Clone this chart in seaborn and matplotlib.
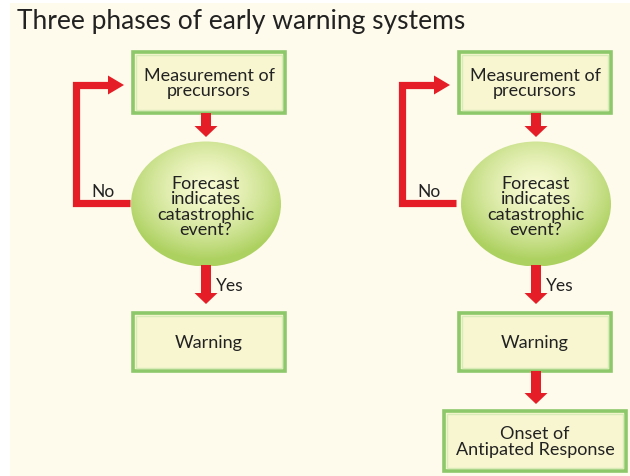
import numpy as np
import matplotlib.pyplot as plt
import seaborn as sns
from matplotlib.patches import Rectangle, Ellipse, Polygon

sns.set_theme(style="white")
plt.rcParams['font.family'] = ['Lato', 'DejaVu Sans']

# chart text
title = "Three phases of early warning systems"
measure_label = "Measurement of\nprecursors"
decision_label = "Forecast\nindicates\ncatastrophic\nevent?"
warning_label = "Warning"
onset_label = "Onset of\nAntipated Response"
no_label = "No"
yes_label = "Yes"

RED = "#e41d26"
GREEN = "#8dc86a"
FILL = "#f8f6d0"
INK = "#222222"
BG = "#fefbec"

fig = plt.figure(figsize=(6.3, 4.77), dpi=100)
fig.patch.set_facecolor("white")
ax = fig.add_axes([0, 0, 1, 1])
ax.set_xlim(0, 630)
ax.set_ylim(477, 0)
ax.axis("off")

ax.add_patch(Rectangle((10, 4), 620, 473, facecolor=BG, edgecolor="none", zorder=0))

ax.text(17, 22, title, fontsize=19, color=INK, va="center", ha="left")


def box(x0, y0, x1, y1, label, fs=13):
    ax.add_patch(Rectangle((x0, y0), x1 - x0, y1 - y0, facecolor=FILL,
                           edgecolor=GREEN, linewidth=2.6, zorder=2))
    ax.add_patch(Rectangle((x0 + 3, y0 + 3), x1 - x0 - 6, y1 - y0 - 6, facecolor="none",
                           edgecolor="#d9ecb8", linewidth=1.0, zorder=2))
    ax.text((x0 + x1) / 2, (y0 + y1) / 2, label, fontsize=fs, color=INK,
            ha="center", va="center", linespacing=0.95, zorder=3)


def down_arrow(x, y0, tip):
    sw, hw, hl = 5, 11.5, 11
    pts = [(x - sw, y0), (x + sw, y0), (x + sw, tip - hl), (x + hw, tip - hl),
           (x, tip), (x - hw, tip - hl), (x - sw, tip - hl)]
    ax.add_patch(Polygon(pts, closed=True, facecolor=RED, edgecolor="none", zorder=4))


def decision(cx, cy, w, h):
    gx = np.linspace(-1, 1, 200)
    gy = np.linspace(-1, 1, 200)
    X, Y = np.meshgrid(gx, gy)
    r = np.sqrt(X ** 2 + (Y + 0.25) ** 2)
    r = np.clip(r / 1.15, 0, 1)
    c0 = np.array([0.97, 0.98, 0.82])
    c1 = np.array([0.68, 0.82, 0.38])
    img = c0[None, None, :] * (1 - r[..., None] ** 1.5) + c1[None, None, :] * r[..., None] ** 1.5
    ell = Ellipse((cx, cy), w, h, facecolor="none", edgecolor="none", zorder=2)
    ax.add_patch(ell)
    im = ax.imshow(img, extent=(cx - w / 2, cx + w / 2, cy + h / 2, cy - h / 2),
                   zorder=2, interpolation="bilinear")
    im.set_clip_path(ell)
    ax.text(cx, cy + 2, decision_label, fontsize=13, color=INK, ha="center",
            va="center", linespacing=0.95, zorder=3)


def phase(dx, cx, with_onset=False):
    box(133 + dx, 53, 285 + dx, 114, measure_label)
    down_arrow(cx, 114, 138)
    decision(cx, 205, 150, 125)

    # "No" loop back to the measurement box
    ax.plot([130 + dx, 76 + dx, 76 + dx, 110 + dx], [204, 204, 86, 86], color=RED,
            linewidth=5.2, solid_joinstyle="miter", solid_capstyle="butt", zorder=4)
    ax.add_patch(Polygon([(108 + dx, 76.5), (124 + dx, 86), (108 + dx, 95.5)], closed=True,
                         facecolor=RED, edgecolor="none", zorder=4))
    ax.text(103 + dx, 192, no_label, fontsize=12.5, color=INK, ha="center", va="center")

    down_arrow(cx, 266, 305)
    ax.text(cx + 10, 286, yes_label, fontsize=12.5, color=INK, ha="left", va="center")

    box(133 + dx, 314, 285 + dx, 372, warning_label)
    if with_onset:
        down_arrow(cx, 372, 405)
        box(444, 412, 626, 472, onset_label)


phase(0, 206)
phase(326, 536, with_onset=True)

plt.savefig("out.png", dpi=100, facecolor=fig.get_facecolor())
